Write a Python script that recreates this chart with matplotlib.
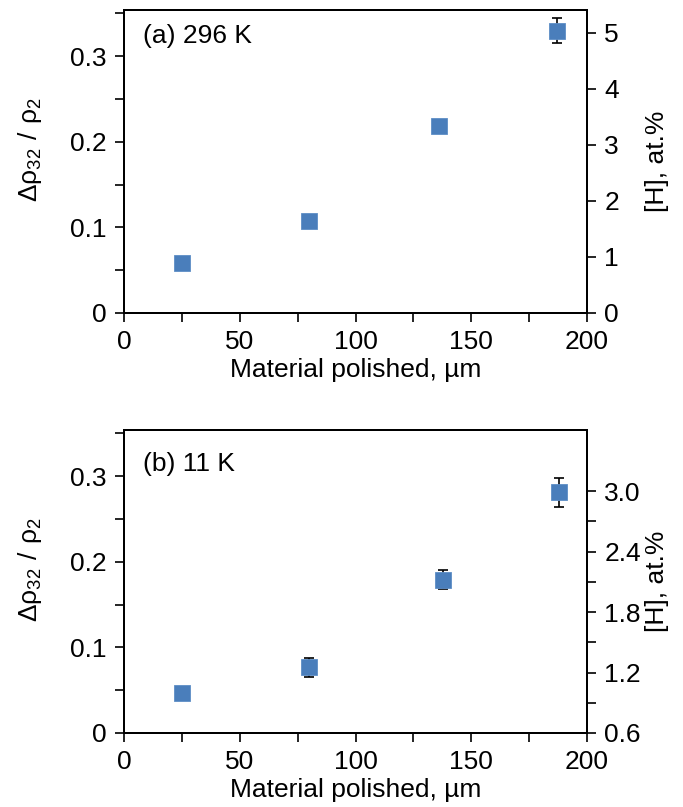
import matplotlib
matplotlib.use("Agg")
import matplotlib.pyplot as plt
from matplotlib.ticker import MultipleLocator, FixedLocator

plt.rcParams['font.family'] = ['Liberation Sans', 'DejaVu Sans']
plt.rcParams['mathtext.fontset'] = 'custom'
plt.rcParams['mathtext.rm'] = 'Liberation Sans'

# data
x_a = [25, 80, 136, 187]
y_a = [0.058, 0.107, 0.218, 0.330]
err_a = [0, 0, 0, 0.015]

x_b = [25, 80, 138, 188]
y_b = [0.047, 0.077, 0.179, 0.281]
err_b = [0, 0.011, 0.011, 0.0165]

labels = ["(a) 296 K", "(b) 11 K"]
xlabel = "Material polished, µm"
ylabel_left = r"$\mathregular{Δρ_{32}\ /\ ρ_2}$"
ylabel_right = "[H], at.%"

BLUE = '#4a7ebb'
FS = 19

fig = plt.figure(figsize=(6.83, 8.07), dpi=100)
W, H = 683, 807
boxes = [(124, 10, 587, 313), (124, 430, 587, 733)]


def style_axis(ax):
    for s in ax.spines.values():
        s.set_linewidth(1.4)
    ax.tick_params(which='both', direction='out', length=6.5, width=1.2,
                   labelsize=FS, pad=6)


def make_panel(box, xs, ys, errs, label, label_y, right_lim, right_major, right_minor, right_fmt):
    l, t, r, b = box
    ax = fig.add_axes([l / W, 1 - b / H, (r - l) / W, (b - t) / H])
    ax.set_xlim(0, 200)
    ax.set_ylim(0, 0.354)
    ax.xaxis.set_major_locator(MultipleLocator(50))
    ax.xaxis.set_minor_locator(MultipleLocator(25))
    ax.yaxis.set_major_locator(FixedLocator([0, 0.1, 0.2, 0.3]))
    ax.yaxis.set_minor_locator(FixedLocator([0.05, 0.15, 0.25, 0.35]))
    ax.set_yticklabels(["0", "0.1", "0.2", "0.3"])
    style_axis(ax)

    ax.errorbar(xs, ys, yerr=errs, fmt='none', ecolor='black', elinewidth=1.2,
                capsize=3.3, capthick=1.2, zorder=2)
    ax.plot(xs, ys, ls='none', marker='s', markersize=11.5, color=BLUE,
            markeredgecolor='#5d8dc6', markeredgewidth=0.6, zorder=3)

    ax.set_xlabel(xlabel, fontsize=FS)
    ax.xaxis.set_label_coords(0.5, -0.149)
    ax.set_ylabel(ylabel_left, fontsize=FS)
    ax.yaxis.set_label_coords(-0.173, 0.54)
    ax.text(0.04, label_y, label, transform=ax.transAxes, fontsize=FS, va='center')

    ax2 = ax.twinx()
    ax2.set_ylim(*right_lim)
    ax2.yaxis.set_major_locator(FixedLocator(right_major))
    ax2.yaxis.set_minor_locator(FixedLocator(right_minor))
    ax2.set_yticklabels([right_fmt.format(v) for v in right_major])
    style_axis(ax2)
    ax2.set_ylabel(ylabel_right, fontsize=FS)
    ax2.yaxis.set_label_coords(1.125, 0.5)
    return ax, ax2


make_panel(boxes[0], x_a, y_a, err_a, labels[0], 0.914,
           (0, 5.41), [0, 1, 2, 3, 4, 5], [], "{:.0f}")
make_panel(boxes[1], x_b, y_b, err_b, labels[1], 0.888,
           (0.6, 3.606), [0.6, 1.2, 1.8, 2.4, 3.0], [0.9, 1.5, 2.1, 2.7], "{:.1f}")

fig.savefig("out.png", dpi=100)
